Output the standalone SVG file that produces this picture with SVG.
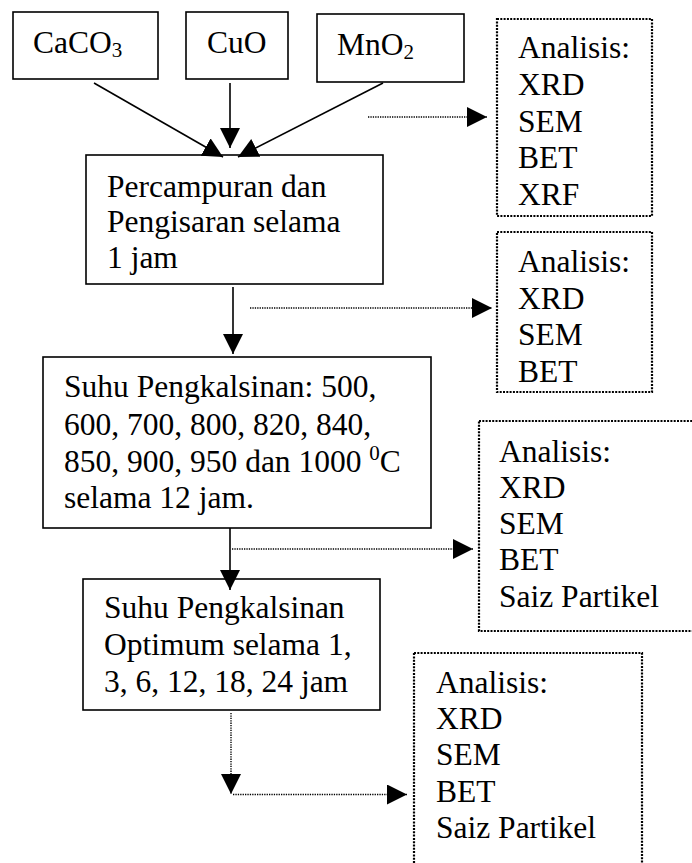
<svg xmlns="http://www.w3.org/2000/svg" width="692" height="863" viewBox="0 0 692 863">
<defs>
<style>
.box{fill:#fff;stroke:#000;stroke-width:1.6}
.dbox{fill:#fff;stroke:#000;stroke-width:2.2;stroke-dasharray:2 1.3}
.t{font-size:31.5px;fill:#000}
.sub{font-size:21px}
.solid{stroke:#000;stroke-width:1.6;fill:none}
.dot{stroke:#000;stroke-width:1.4;stroke-dasharray:1.3 1.1;fill:none}
</style>
<marker id="ah" markerUnits="userSpaceOnUse" markerWidth="20" markerHeight="20" refX="20" refY="10" orient="auto" viewBox="0 0 20 20">
<path d="M0,0 L20,10 L0,20 Z" fill="#000"/>
</marker>
</defs>
<rect width="692" height="863" fill="#fff"/>
<g font-family="'Liberation Serif', 'DejaVu Serif', serif">
<g id="caco3">
<rect class="box" x="13" y="12" width="145" height="67"/>
<text class="t" x="33" y="53">CaCO<tspan class="sub" dy="4">3</tspan></text>
</g>
<g id="cuo">
<rect class="box" x="186" y="12" width="102" height="67"/>
<text class="t" x="207" y="53">CuO</text>
</g>
<g id="mno2">
<rect class="box" x="317" y="14" width="147" height="68"/>
<text class="t" x="337" y="55">MnO<tspan class="sub" dy="4">2</tspan></text>
</g>

<g id="mix">
<rect class="box" x="86" y="155" width="297" height="129"/>
<text class="t" x="107" y="197">Percampuran dan</text>
<text class="t" x="107" y="232">Pengisaran selama</text>
<text class="t" x="107" y="268">1 jam</text>
</g>

<g id="calc">
<rect class="box" x="43" y="357" width="388" height="171"/>
<text class="t" x="64" y="397">Suhu Pengkalsinan: 500,</text>
<text class="t" x="64" y="435">600, 700, 800, 820, 840,</text>
<text class="t" x="64" y="472">850, 900, 950 dan 1000 <tspan class="sub" dy="-12">0</tspan><tspan dy="12">C</tspan></text>
<text class="t" x="64" y="508">selama 12 jam.</text>
</g>

<g id="opt">
<rect class="box" x="83" y="579" width="297" height="131"/>
<text class="t" x="104" y="618">Suhu Pengkalsinan</text>
<text class="t" x="104" y="655">Optimum selama 1,</text>
<text class="t" x="104" y="692">3, 6, 12, 18, 24 jam</text>
</g>

<g id="an1">
<rect class="dbox" x="497" y="19" width="155" height="197"/>
<text class="t" x="518" y="58">Analisis:</text>
<text class="t" x="518" y="95">XRD</text>
<text class="t" x="518" y="132">SEM</text>
<text class="t" x="518" y="168">BET</text>
<text class="t" x="518" y="205">XRF</text>
</g>

<g id="an2">
<rect class="dbox" x="497" y="232" width="155" height="160"/>
<text class="t" x="518" y="272">Analisis:</text>
<text class="t" x="518" y="309">XRD</text>
<text class="t" x="518" y="345">SEM</text>
<text class="t" x="518" y="382">BET</text>
</g>

<g id="an3">
<rect class="dbox" x="479" y="421" width="240" height="210"/>
<text class="t" x="499" y="462">Analisis:</text>
<text class="t" x="499" y="498">XRD</text>
<text class="t" x="499" y="534">SEM</text>
<text class="t" x="499" y="570">BET</text>
<text class="t" x="499" y="607">Saiz Partikel</text>
</g>

<g id="an4">
<rect class="dbox" x="414" y="653" width="228" height="240"/>
<text class="t" x="436" y="693">Analisis:</text>
<text class="t" x="436" y="729">XRD</text>
<text class="t" x="436" y="765">SEM</text>
<text class="t" x="436" y="802">BET</text>
<text class="t" x="436" y="838">Saiz Partikel</text>
</g>
</g>
<g id="connectors">
<line class="solid" x1="94" y1="83" x2="223" y2="157" marker-end="url(#ah)"/>
<line class="solid" x1="230" y1="83" x2="230" y2="148" marker-end="url(#ah)"/>
<line class="solid" x1="383" y1="83" x2="238" y2="157" marker-end="url(#ah)"/>
<line class="solid" x1="233" y1="287" x2="233" y2="354" marker-end="url(#ah)"/>
<line class="solid" x1="230" y1="528" x2="230" y2="590" marker-end="url(#ah)"/>
<line class="dot" x1="368" y1="117" x2="487" y2="117" marker-end="url(#ah)"/>
<line class="dot" x1="250" y1="308" x2="492" y2="308" marker-end="url(#ah)"/>
<line class="dot" x1="232" y1="549" x2="473" y2="549" marker-end="url(#ah)"/>
<line class="dot" x1="231" y1="713" x2="231" y2="794" marker-end="url(#ah)"/>
<line class="dot" x1="233" y1="794.5" x2="407" y2="794.5" marker-end="url(#ah)"/>
</g>
</svg>
